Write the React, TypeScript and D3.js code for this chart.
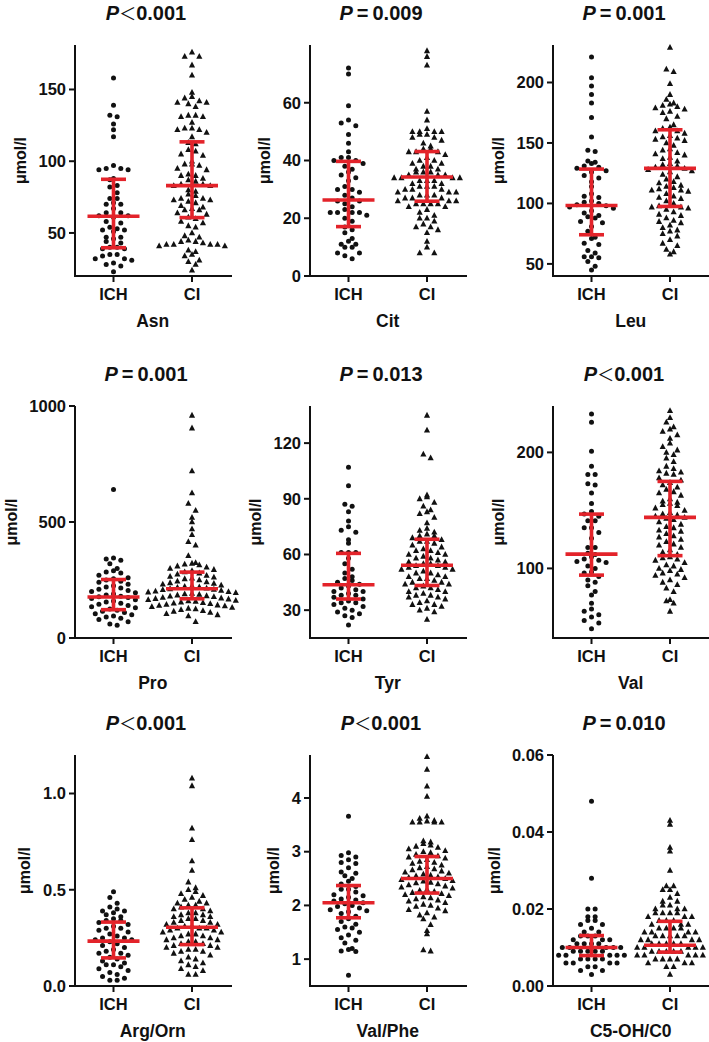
import React from "react";
import * as d3 from "d3";

// ---------- DATA ----------
const panelNames = ["Asn", "Cit", "Leu", "Pro", "Tyr", "Val", "Arg/Orn", "Val/Phe", "C5-OH/C0"];
const groups = ["ICH", "CI"];
const pOps = ["<", "=", "=", "=", "=", "<", "<", "<", "="];
const pVals = ["0.001", "0.009", "0.001", "0.001", "0.013", "0.001", "0.001", "0.001", "0.010"];

const yDomains: [number, number][] = [
  [20, 181], [0, 80], [40, 231],
  [0, 1000], [15, 140], [40, 240],
  [0, 1.2], [0.5, 4.8], [0, 0.06],
];
const yTicks: number[][] = [
  [50, 100, 150], [0, 20, 40, 60], [50, 100, 150, 200],
  [0, 500, 1000], [30, 60, 90, 120], [100, 200],
  [0, 0.5, 1.0], [1, 2, 3, 4], [0, 0.02, 0.04, 0.06],
];
const yTickDecimals = [0, 0, 0, 0, 0, 0, 1, 0, 2];

// median, Q1, Q3 (ICH then CI)
const ichStats = [
  [61.6, 39.7, 87.4], [26.3, 17.1, 39.7], [98.3, 74.1, 128.4],
  [177, 122, 252], [43.7, 36, 60.6], [112.3, 94.2, 146.8],
  [0.233, 0.146, 0.332], [2.05, 1.77, 2.37], [0.010, 0.0079, 0.0131],
];
const ciStats = [
  [83, 60.7, 113.5], [34.3, 25.9, 43.1], [129, 97.5, 160.9],
  [212, 169, 284], [54.2, 43.3, 68.2], [144, 111, 175],
  [0.305, 0.215, 0.406], [2.5, 2.23, 2.91], [0.0106, 0.0088, 0.0168],
];

const asnICH = [158, 139, 132, 131, 126, 122, 117, 97, 95, 95, 94, 94, 88, 87, 83, 82, 78, 74, 74, 71, 70, 70, 67, 64, 64, 62, 62, 61, 58, 57, 54, 53, 52, 52, 51, 47, 47, 46, 44, 43, 40, 40, 39, 39, 35, 35, 34, 32, 32, 31, 29, 28, 27, 23];
const asnCI = [176, 173, 173, 167, 160, 148, 145, 144, 142, 141, 141, 140, 138, 132, 132, 131, 131, 127, 123, 123, 122, 122, 120, 117, 113, 112, 108, 107, 105, 104, 100, 98, 98, 97, 95, 94, 91, 90, 90, 88, 87, 86, 84, 84, 83, 83, 80, 79, 77, 76, 74, 74, 73, 73, 72, 71, 69, 68, 67, 66, 66, 64, 63, 61, 60, 58, 57, 55, 54, 50, 48, 47, 45, 44, 44, 43, 42, 42, 42, 42, 41, 41, 38, 37, 35, 34, 31, 30, 28, 24];

const citICH = [72, 70, 59, 54, 53, 52, 49, 46, 43, 41, 41, 40, 40, 39, 38, 37, 36, 35, 34, 33, 31, 30, 30, 29, 28, 27, 26, 26, 25, 24, 23, 22, 22, 22, 22, 21, 20, 19, 17, 16, 15, 13, 12, 11, 11, 10, 10, 8, 8, 7, 6];
const citCI = [78, 76, 73, 57, 54, 51, 50, 50, 50, 50, 49, 49, 48, 48, 47, 46, 45, 44, 44, 43, 43, 43, 42, 41, 40, 40, 39, 39, 38, 38, 37, 37, 36, 36, 36, 35, 35, 35, 34, 34, 34, 34, 33, 33, 33, 32, 32, 31, 31, 31, 30, 30, 30, 29, 29, 29, 28, 28, 28, 27, 27, 27, 26, 26, 26, 25, 25, 25, 25, 24, 24, 23, 22, 21, 20, 20, 19, 18, 17, 17, 16, 15, 12, 10, 8, 8];

const leuICH = [221, 204, 197, 190, 183, 171, 155, 144, 143, 135, 134, 133, 131, 130, 129, 127, 126, 123, 121, 118, 114, 108, 106, 105, 102, 101, 100, 99, 98, 97, 96, 94, 92, 90, 89, 88, 85, 84, 81, 77, 72, 71, 67, 66, 61, 59, 56, 56, 55, 52, 48, 45];
const leuCI = [229, 211, 209, 199, 190, 186, 183, 182, 181, 180, 179, 178, 176, 175, 172, 170, 165, 163, 162, 160, 160, 158, 156, 155, 154, 153, 152, 150, 148, 145, 144, 142, 141, 140, 138, 137, 135, 133, 132, 131, 130, 129, 128, 127, 126, 124, 122, 120, 118, 117, 115, 114, 113, 112, 111, 111, 110, 108, 106, 105, 104, 102, 100, 98, 97, 97, 96, 95, 93, 91, 90, 88, 86, 85, 84, 82, 80, 78, 77, 75, 73, 70, 67, 65, 62, 60, 58];

const proICH = [640, 345, 340, 335, 320, 300, 290, 285, 280, 270, 260, 255, 250, 245, 240, 232, 225, 220, 215, 210, 205, 200, 195, 190, 185, 180, 178, 175, 170, 165, 160, 155, 150, 145, 140, 135, 130, 125, 120, 115, 110, 105, 100, 95, 90, 85, 80, 70, 60, 55];
const proCI = [960, 905, 720, 625, 580, 550, 520, 500, 470, 445, 415, 400, 355, 325, 322, 318, 315, 310, 305, 300, 295, 290, 285, 280, 275, 270, 265, 262, 258, 255, 250, 245, 242, 238, 235, 232, 228, 225, 222, 220, 218, 215, 212, 210, 208, 205, 202, 200, 198, 195, 192, 190, 188, 185, 182, 180, 178, 175, 172, 170, 168, 165, 162, 160, 158, 155, 152, 150, 148, 145, 142, 140, 138, 135, 132, 128, 125, 122, 118, 115, 110, 105, 100, 95, 70];

const tyrICH = [107, 97, 87, 86, 83, 78, 75, 73, 72, 68, 66, 61, 61, 61, 58, 55, 52, 50, 48, 47, 46, 45, 44, 43, 42, 41, 40, 40, 39, 38, 38, 37, 36, 35, 34, 34, 33, 32, 31, 30, 29, 28, 27, 26, 22];
const tyrCI = [135, 127, 114, 112, 92, 91, 90, 88, 86, 84, 83, 82, 80, 77, 74, 73, 72, 71, 70, 70, 69, 68, 67, 67, 66, 65, 64, 63, 62, 62, 61, 60, 60, 59, 58, 58, 57, 56, 56, 55, 55, 54, 54, 53, 53, 52, 52, 51, 50, 50, 49, 48, 48, 47, 47, 46, 45, 45, 44, 44, 43, 42, 42, 41, 40, 40, 39, 38, 38, 37, 37, 36, 35, 34, 33, 33, 32, 31, 30, 29, 25];

const valICH = [233, 226, 201, 188, 181, 181, 173, 172, 165, 156, 149, 147, 145, 141, 141, 135, 135, 131, 126, 118, 118, 113, 112, 110, 108, 107, 106, 105, 102, 100, 97, 96, 93, 90, 88, 85, 80, 77, 70, 65, 63, 60, 58, 55, 53, 48];
const valCI = [236, 230, 226, 222, 220, 218, 215, 212, 208, 205, 202, 200, 198, 195, 192, 188, 186, 184, 183, 182, 181, 178, 176, 174, 172, 170, 168, 166, 165, 163, 160, 158, 157, 156, 155, 154, 152, 150, 148, 147, 146, 145, 144, 143, 142, 140, 138, 136, 135, 133, 132, 130, 128, 127, 125, 123, 121, 120, 118, 116, 114, 112, 110, 109, 108, 107, 105, 103, 102, 100, 99, 98, 96, 95, 94, 92, 90, 88, 86, 83, 80, 73, 72, 70, 63];

const argICH = [0.49, 0.46, 0.43, 0.41, 0.40, 0.39, 0.39, 0.38, 0.37, 0.36, 0.35, 0.34, 0.34, 0.33, 0.32, 0.31, 0.30, 0.30, 0.29, 0.28, 0.27, 0.26, 0.25, 0.25, 0.24, 0.24, 0.23, 0.22, 0.21, 0.20, 0.19, 0.18, 0.17, 0.17, 0.16, 0.15, 0.14, 0.13, 0.12, 0.11, 0.11, 0.10, 0.09, 0.08, 0.07, 0.06, 0.05, 0.04, 0.03, 0.03];
const argCI = [1.08, 1.04, 0.82, 0.76, 0.65, 0.60, 0.54, 0.51, 0.50, 0.49, 0.48, 0.47, 0.46, 0.45, 0.44, 0.43, 0.43, 0.42, 0.42, 0.41, 0.40, 0.40, 0.39, 0.38, 0.38, 0.37, 0.37, 0.36, 0.36, 0.35, 0.35, 0.34, 0.34, 0.33, 0.33, 0.32, 0.32, 0.31, 0.31, 0.30, 0.30, 0.30, 0.29, 0.29, 0.28, 0.28, 0.27, 0.27, 0.26, 0.26, 0.25, 0.25, 0.24, 0.24, 0.23, 0.23, 0.22, 0.22, 0.21, 0.21, 0.20, 0.20, 0.19, 0.19, 0.18, 0.18, 0.17, 0.16, 0.15, 0.14, 0.13, 0.12, 0.11, 0.10, 0.09, 0.08, 0.06, 0.06];

const vpICH = [3.66, 2.98, 2.93, 2.90, 2.85, 2.80, 2.78, 2.70, 2.62, 2.60, 2.55, 2.50, 2.45, 2.40, 2.35, 2.30, 2.30, 2.25, 2.20, 2.18, 2.15, 2.12, 2.10, 2.08, 2.05, 2.03, 2.00, 1.98, 1.95, 1.92, 1.90, 1.88, 1.85, 1.80, 1.75, 1.70, 1.65, 1.60, 1.58, 1.55, 1.50, 1.45, 1.40, 1.35, 1.30, 1.20, 1.18, 1.15, 1.14, 0.70];
const vpCI = [4.77, 4.53, 4.22, 4.03, 3.66, 3.62, 3.58, 3.57, 3.55, 3.55, 3.55, 3.55, 3.20, 3.18, 3.15, 3.12, 3.10, 3.08, 3.05, 3.02, 3.00, 2.98, 2.95, 2.92, 2.90, 2.88, 2.85, 2.82, 2.80, 2.78, 2.75, 2.72, 2.70, 2.68, 2.66, 2.64, 2.62, 2.60, 2.58, 2.56, 2.55, 2.53, 2.52, 2.50, 2.48, 2.46, 2.45, 2.43, 2.42, 2.40, 2.38, 2.36, 2.34, 2.32, 2.30, 2.28, 2.26, 2.24, 2.22, 2.20, 2.18, 2.16, 2.14, 2.12, 2.10, 2.08, 2.05, 2.02, 2.00, 1.98, 1.95, 1.92, 1.90, 1.86, 1.82, 1.78, 1.75, 1.64, 1.53, 1.47, 1.17, 1.15];

const c5ICH = [0.048, 0.028, 0.020, 0.020, 0.018, 0.018, 0.017, 0.017, 0.016, 0.016, 0.015, 0.014, 0.014, 0.013, 0.013, 0.013, 0.012, 0.012, 0.012, 0.011, 0.011, 0.011, 0.011, 0.010, 0.010, 0.010, 0.010, 0.010, 0.009, 0.009, 0.009, 0.009, 0.009, 0.008, 0.008, 0.008, 0.008, 0.008, 0.007, 0.007, 0.007, 0.007, 0.006, 0.006, 0.006, 0.006, 0.005, 0.005, 0.004, 0.004, 0.003];
const c5CI = [0.043, 0.042, 0.036, 0.035, 0.030, 0.026, 0.026, 0.025, 0.025, 0.024, 0.023, 0.022, 0.022, 0.021, 0.021, 0.020, 0.020, 0.020, 0.019, 0.019, 0.019, 0.019, 0.018, 0.018, 0.018, 0.017, 0.017, 0.017, 0.016, 0.016, 0.016, 0.015, 0.015, 0.015, 0.015, 0.014, 0.014, 0.014, 0.014, 0.013, 0.013, 0.013, 0.013, 0.013, 0.012, 0.012, 0.012, 0.012, 0.011, 0.011, 0.011, 0.011, 0.011, 0.010, 0.010, 0.010, 0.010, 0.010, 0.009, 0.009, 0.009, 0.009, 0.009, 0.008, 0.008, 0.008, 0.008, 0.008, 0.007, 0.007, 0.007, 0.007, 0.006, 0.006, 0.006, 0.005, 0.005, 0.003];

const ichData = [asnICH, citICH, leuICH, proICH, tyrICH, valICH, argICH, vpICH, c5ICH];
const ciData = [asnCI, citCI, leuCI, proCI, tyrCI, valCI, argCI, vpCI, c5CI];

// ---------- LAYOUT ----------
const W = 709;
const H = 1042;
const colX = [75, 310, 553];
const rowTop = [45, 406, 755];
const rowBottom = [276, 638, 986];
const ICH_OFF = 38.5;
const CI_OFF = 117;
const AXIS_LEN = 157;
const RED = "#e3232a";
const INK = "#111";
const FONT = "'Liberation Sans', Arial, Helvetica, sans-serif";
const BIN_H = 7.5;
const X_SP = 7.3;

// Prism-like scatter: points binned into horizontal rows, spread symmetrically
function swarm(ys: number[], bottom: number): number[] {
  const bins = new Map<number, number[]>();
  ys.forEach((y, i) => {
    const b = Math.floor((bottom - y) / BIN_H);
    if (!bins.has(b)) bins.set(b, []);
    bins.get(b)!.push(i);
  });
  const xs: number[] = new Array(ys.length).fill(0);
  bins.forEach((members) => {
    members.sort((a, b) => ys[a] - ys[b]);
    const n = members.length;
    const slots = d3.range(n).map((k) => (k - (n - 1) / 2) * X_SP);
    slots.sort((a, b) => Math.abs(a) - Math.abs(b) || a - b);
    members.forEach((m, k) => (xs[m] = slots[k]));
  });
  return xs;
}

const triPath = (x: number, y: number, s: number) =>
  `M${x},${y - s * 0.62}L${x + s * 0.55},${y + s * 0.42}L${x - s * 0.55},${y + s * 0.42}Z`;

function Panel({ i }: { i: number }) {
  const col = i % 3;
  const row = Math.floor(i / 3);
  const ax = colX[col];
  const top = rowTop[row];
  const bottom = rowBottom[row];
  const y = d3.scaleLinear().domain(yDomains[i]).range([bottom, top]);
  const xI = ax + ICH_OFF;
  const xC = ax + CI_OFF;
  const mid = (xI + xC) / 2;
  const fmt = d3.format(`.${yTickDecimals[i]}f`);
  const tickLabels = yTicks[i].map((t) => fmt(t));
  const maxLen = d3.max(tickLabels, (s) => s.replace(".", "").length * 8.9 + (s.includes(".") ? 4.4 : 0)) || 0;
  const labelX = ax - 9 - maxLen - 19;

  const ichY = ichData[i].map((v) => y(v));
  const ciY = ciData[i].map((v) => y(v));
  const ichX = swarm(ichY, bottom);
  const ciX = swarm(ciY, bottom);

  const stats = [ichStats[i], ciStats[i]];
  const cx = [xI, xC];

  return (
    <g>
      {/* title */}
      <text x={ax + 71} y={top - 25.5} textAnchor="middle" fontFamily={FONT} fontWeight="bold" fontSize={20} fill={INK}>
        <tspan fontStyle="italic">P</tspan>
        {pOps[i] === "<" ? (
          <tspan fontWeight="normal" fontFamily="'Noto Sans CJK SC', sans-serif" fontSize={17}>＜</tspan>
        ) : (
          <tspan>{"\u2009=\u2009"}</tspan>
        )}
        <tspan>{pVals[i]}</tspan>
      </text>
      {/* points */}
      {ichY.map((py, k) => (
        <circle key={"i" + k} cx={xI + ichX[k]} cy={py} r={2.5} fill={INK} />
      ))}
      {ciY.map((py, k) => (
        <path key={"c" + k} d={triPath(xC + ciX[k], py, 5.6)} fill={INK} />
      ))}
      {/* median + IQR */}
      {stats.map((s, g) => (
        <g key={"s" + g} stroke={RED} strokeWidth={3.6} fill="none">
          <line x1={cx[g]} x2={cx[g]} y1={y(s[1])} y2={y(s[2])} />
          <line x1={cx[g] - 26} x2={cx[g] + 26} y1={y(s[0])} y2={y(s[0])} />
          <line x1={cx[g] - 12.5} x2={cx[g] + 12.5} y1={y(s[1])} y2={y(s[1])} />
          <line x1={cx[g] - 12.5} x2={cx[g] + 12.5} y1={y(s[2])} y2={y(s[2])} />
        </g>
      ))}
      {/* axes */}
      <line x1={ax} x2={ax} y1={top} y2={bottom + 1} stroke={INK} strokeWidth={2} />
      <line x1={ax - 1} x2={ax + AXIS_LEN} y1={bottom} y2={bottom} stroke={INK} strokeWidth={2} />
      {yTicks[i].map((t, k) => (
        <g key={"t" + k}>
          <line x1={ax - 6} x2={ax} y1={y(t)} y2={y(t)} stroke={INK} strokeWidth={2} />
          <text x={ax - 9} y={y(t) + 5.8} textAnchor="end" fontFamily={FONT} fontWeight="bold" fontSize={16.5} fill={INK}>
            {tickLabels[k]}
          </text>
        </g>
      ))}
      {cx.map((x, g) => (
        <g key={"x" + g}>
          <line x1={x} x2={x} y1={bottom} y2={bottom + 6} stroke={INK} strokeWidth={2} />
          <text x={x} y={bottom + 24} textAnchor="middle" fontFamily={FONT} fontWeight="bold" fontSize={16.5} fill={INK}>
            {groups[g]}
          </text>
        </g>
      ))}
      <text x={mid} y={bottom + 51} textAnchor="middle" fontFamily={FONT} fontWeight="bold" fontSize={17.5} fill={INK}>
        {panelNames[i]}
      </text>
      <text
        transform={`translate(${labelX},${(top + bottom) / 2}) rotate(-90)`}
        textAnchor="middle"
        dy="0.35em"
        fontFamily={FONT}
        fontWeight="bold"
        fontSize={16}
        fill={INK}
      >
        μmol/l
      </text>
    </g>
  );
}

export default function App() {
  return (
    <svg
      width={W}
      height={H}
      viewBox={`0 0 ${W} ${H}`}
      style={{ position: "absolute", left: 0, top: 0, background: "#fff" }}
    >
      <rect width={W} height={H} fill="#fff" />
      {panelNames.map((_, i) => (
        <Panel key={i} i={i} />
      ))}
    </svg>
  );
}
